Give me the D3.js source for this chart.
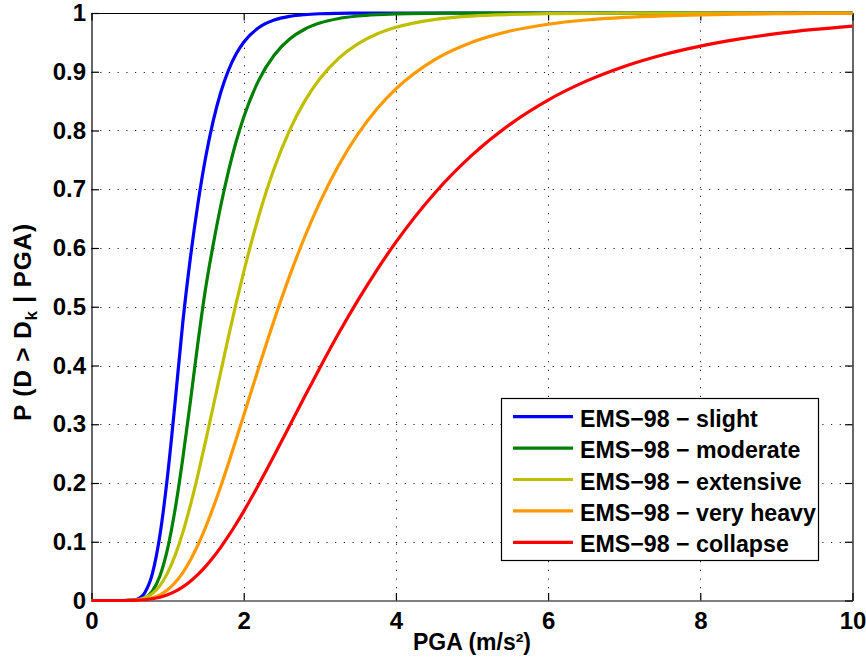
<!DOCTYPE html>
<html>
<head>
<meta charset="utf-8">
<script src="https://cdn.jsdelivr.net/npm/d3@7"></script>
<style>
  html, body { margin: 0; padding: 0; background: #fff; }
  svg text { font-family: "Liberation Sans", Arial, Helvetica, sans-serif; font-weight: bold; fill: #000; }
</style>
</head>
<body>
<svg id="chart" width="866" height="662"></svg>
<script>
// ---- data ----
const pga = [0,0.4,0.5,0.6,0.7,0.8,0.9,1.0,1.1,1.2,1.3,1.4,1.5,1.6,1.7,1.8,1.9,2.0,2.2,2.4,2.6,2.8,3.0,3.25,3.5,3.75,4.0,4.5,5,5.5,6,6.5,7,7.5,8,8.5,9,9.5,10];
const slight    = [0,0,0.0002,0.0023,0.0132,0.0457,0.1118,0.213,0.3394,0.4736,0.5838,0.6768,0.7545,0.8169,0.8656,0.9026,0.9301,0.9502,0.9753,0.9879,0.9942,0.9972,0.9987,0.9995,0.9998,0.9999,1,1,1,1,1,1,1,1,1,1,1,1,1];
const moderate  = [0,0,0.0001,0.0007,0.0043,0.0159,0.042,0.0883,0.156,0.242,0.3394,0.4404,0.5318,0.6062,0.6728,0.731,0.7808,0.8227,0.8861,0.9281,0.9552,0.9723,0.9829,0.9907,0.9949,0.9972,0.9985,0.9995,0.9999,1,1,1,1,1,1,1,1,1,1];
const extensive = [0,0,0.0002,0.0013,0.0045,0.0118,0.0254,0.047,0.0772,0.1159,0.1624,0.2148,0.2716,0.3306,0.3901,0.4491,0.5056,0.5591,0.6553,0.7352,0.7993,0.8495,0.888,0.9232,0.9476,0.9643,0.9757,0.9888,0.9948,0.9975,0.9988,0.9994,0.9997,0.9999,1,1,1,1,1];
const veryHeavy = [0,0,0.0001,0.0005,0.0017,0.0045,0.0097,0.0182,0.0306,0.0475,0.069,0.0949,0.125,0.1586,0.195,0.2338,0.274,0.315,0.3975,0.4771,0.5512,0.6183,0.6777,0.7414,0.7939,0.8366,0.8709,0.9199,0.9504,0.9693,0.9809,0.9881,0.9925,0.9952,0.9969,0.998,0.9987,0.9992,0.9994];
const collapse  = [0,0,0.0001,0.0005,0.0013,0.0029,0.0056,0.0097,0.0155,0.0231,0.0328,0.0444,0.058,0.0735,0.0909,0.1098,0.1302,0.1518,0.198,0.2467,0.2967,0.3468,0.3959,0.4552,0.5108,0.5625,0.6099,0.692,0.758,0.8105,0.8518,0.884,0.9091,0.9286,0.9437,0.9555,0.9648,0.972,0.9777];
const seriesNames = ["EMS\u221298 \u2212 slight","EMS\u221298 \u2212 moderate","EMS\u221298 \u2212 extensive","EMS\u221298 \u2212 very heavy","EMS\u221298 \u2212 collapse"];
const seriesColors = ["#0000ff","#008000","#bfbf00","#ff9900","#ff0000"];
const xTicks = [0,2,4,6,8,10];
const yTicks = [0,0.1,0.2,0.3,0.4,0.5,0.6,0.7,0.8,0.9,1];
const xTitle = "PGA (m/s\u00b2)";

const allSeries = [slight, moderate, extensive, veryHeavy, collapse];

// ---- layout ----
const L = 91.5, R = 852.5, T = 13, B = 600.5;
const svg = d3.select("#chart");
svg.append("rect").attr("width", 866).attr("height", 662).attr("fill", "#fff");

const x = d3.scaleLinear().domain([0, 10]).range([L, R]);
const y = d3.scaleLinear().domain([0, 1]).range([B, T]);

// grid
const grid = svg.append("g");
grid.selectAll("line.gx").data(xTicks.filter(d => d > 0 && d < 10)).join("line")
  .attr("x1", d => Math.round(x(d)) + 0.5).attr("x2", d => Math.round(x(d)) + 0.5).attr("y1", T).attr("y2", B)
  .attr("stroke", "#222").attr("stroke-width", 1).attr("stroke-dasharray", "1.2,7.5");
grid.selectAll("line.gy").data(yTicks.filter(d => d > 0 && d < 1)).join("line")
  .attr("y1", d => Math.round(y(d)) + 0.5).attr("y2", d => Math.round(y(d)) + 0.5).attr("x1", L).attr("x2", R)
  .attr("stroke", "#222").attr("stroke-width", 1).attr("stroke-dasharray", "1.2,7.5");

// axes
const tickLen = 7.5;
const axB = d3.axisBottom(x).tickValues(xTicks).tickFormat(d3.format("d")).tickSizeInner(-tickLen).tickSizeOuter(0).tickPadding(11.5);
const axT = d3.axisTop(x).tickValues(xTicks).tickFormat("").tickSizeInner(-tickLen).tickSizeOuter(0);
const axL = d3.axisLeft(y).tickValues(yTicks).tickFormat(d => d === 0 ? "0" : d === 1 ? "1" : d3.format(".1f")(d)).tickSizeInner(-tickLen).tickSizeOuter(0).tickPadding(5.5);
const axR = d3.axisRight(y).tickValues(yTicks).tickFormat("").tickSizeInner(-tickLen).tickSizeOuter(0);

function styleAxis(g) {
  g.select(".domain").attr("stroke", "#000").attr("stroke-width", 1.2);
  g.selectAll(".tick line").attr("stroke", "#000").attr("stroke-width", 1.2);
  g.selectAll(".tick text").attr("font-size", 24).attr("font-family", "Liberation Sans, Arial, sans-serif").attr("font-weight", "bold").attr("fill", "#000");
}
svg.append("g").attr("transform", `translate(0,${B})`).call(axB).call(styleAxis);
svg.append("g").attr("transform", `translate(0,${T})`).call(axT).call(styleAxis);
svg.append("g").attr("transform", `translate(${L},0)`).call(axL).call(styleAxis);
svg.append("g").attr("transform", `translate(${R},0)`).call(axR).call(styleAxis);

// curves
const line = d3.line().x((d, i) => x(pga[i])).y(d => y(d)).curve(d3.curveMonotoneX);
allSeries.forEach((s, k) => {
  svg.append("path").attr("d", line(s)).attr("fill", "none")
    .attr("stroke", seriesColors[k]).attr("stroke-width", 3.2)
    .attr("stroke-linejoin", "round").attr("stroke-linecap", "butt");
});

// legend
const lg = svg.append("g");
lg.append("rect").attr("x", 501.5).attr("y", 398.5).attr("width", 317).attr("height", 162)
  .attr("fill", "#fff").attr("stroke", "#000").attr("stroke-width", 1.2);
seriesNames.forEach((name, k) => {
  const yy = 416.7 + k * 31.4;
  lg.append("line").attr("x1", 513).attr("x2", 573).attr("y1", yy).attr("y2", yy)
    .attr("stroke", seriesColors[k]).attr("stroke-width", 3.2);
  lg.append("text").attr("x", 580).attr("y", yy + 10).attr("font-size", 23.2).text(name);
});

// axis titles
svg.append("text").attr("x", (L + R) / 2).attr("y", 650).attr("text-anchor", "middle")
  .attr("font-size", 23).text(xTitle);

const yl = svg.append("text").attr("transform", "translate(31,322) rotate(-90)")
  .attr("text-anchor", "middle").attr("font-size", 24.5).attr("letter-spacing", 0.8);
yl.append("tspan").text("P (D > D");
yl.append("tspan").attr("font-size", 17).attr("dy", 6).text("k");
yl.append("tspan").attr("dy", -6).text(" | PGA)");
</script>
</body>
</html>
